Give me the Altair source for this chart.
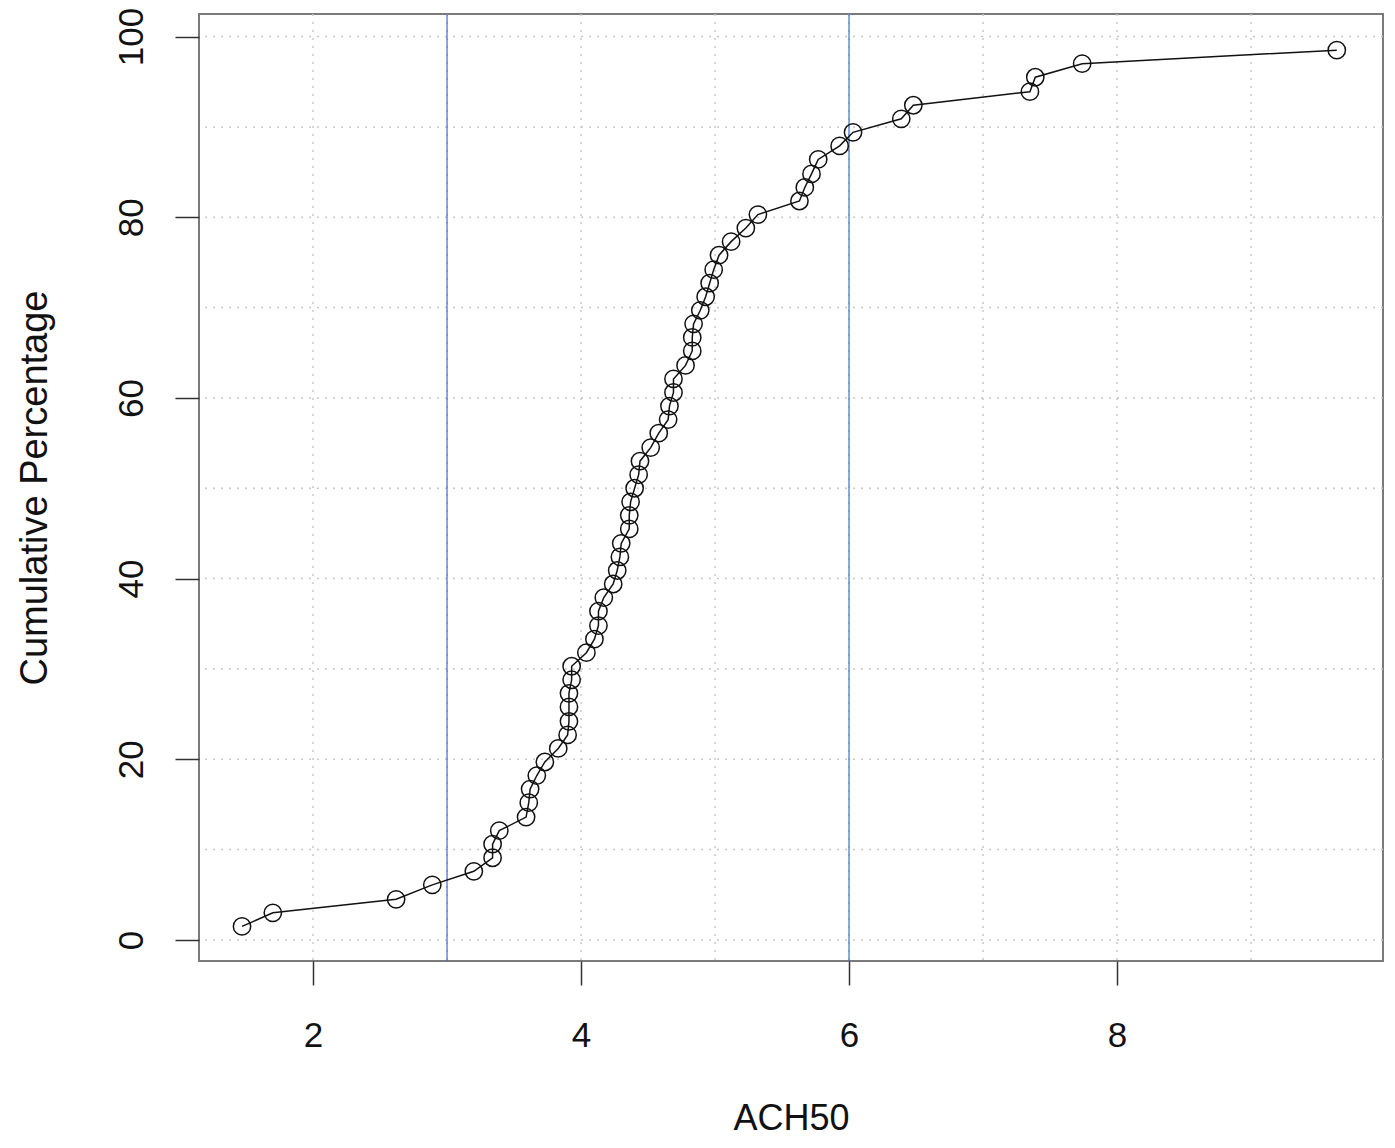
import altair as alt
import pandas as pd

# Data (ACH50 value, cumulative percentage)
ach50 = [1.47, 1.70, 2.62, 2.89, 3.20, 3.34, 3.34, 3.39, 3.59, 3.61,
         3.62, 3.67, 3.73, 3.83, 3.90, 3.91, 3.91, 3.91, 3.93, 3.93,
         4.04, 4.10, 4.13, 4.13, 4.17, 4.24, 4.27, 4.29, 4.30, 4.36,
         4.36, 4.37, 4.40, 4.43, 4.44, 4.52, 4.58, 4.65, 4.66, 4.69,
         4.69, 4.78, 4.83, 4.83, 4.84, 4.89, 4.93, 4.96, 4.99, 5.03,
         5.12, 5.23, 5.32, 5.63, 5.67, 5.72, 5.77, 5.93, 6.03, 6.39,
         6.48, 7.35, 7.39, 7.74, 9.64]
cum_pct = [1.5, 3.0, 4.5, 6.1, 7.6, 9.1, 10.6, 12.1, 13.6, 15.2,
           16.7, 18.2, 19.7, 21.2, 22.7, 24.2, 25.8, 27.3, 28.8, 30.3,
           31.8, 33.3, 34.8, 36.4, 37.9, 39.4, 40.9, 42.4, 43.9, 45.5,
           47.0, 48.5, 50.0, 51.5, 53.0, 54.5, 56.1, 57.6, 59.1, 60.6,
           62.1, 63.6, 65.2, 66.7, 68.2, 69.7, 71.2, 72.7, 74.2, 75.8,
           77.3, 78.8, 80.3, 81.8, 83.3, 84.8, 86.4, 87.9, 89.4, 90.9,
           92.4, 93.9, 95.5, 97.0, 98.5]

x_ticks = [2, 4, 6, 8]
y_ticks = [0, 20, 40, 60, 80, 100]
x_grid = [2, 3, 4, 5, 6, 7, 8, 9]
y_grid = [0, 10, 20, 30, 40, 50, 60, 70, 80, 90, 100]
ref_lines = [3, 6]

X_DOMAIN = [1.149, 9.985]
Y_DOMAIN = [-2.33, 102.5]

W, H = 1184, 947
FONT = "Liberation Sans"

df = pd.DataFrame({"ACH50": ach50, "pct": cum_pct})
df_xg = pd.DataFrame({"ACH50": x_grid})
df_yg = pd.DataFrame({"pct": y_grid})
df_ref = pd.DataFrame({"ACH50": ref_lines})

xscale = alt.Scale(domain=X_DOMAIN, nice=False, zero=False)
yscale = alt.Scale(domain=Y_DOMAIN, nice=False, zero=False)

x_axis = alt.Axis(
    values=x_ticks, title="ACH50", grid=False, domain=False,
    tickSize=24, tickColor="#333333", tickWidth=1.5,
    labelFontSize=35, labelFont=FONT, labelColor="#111111",
    labelBaseline="alphabetic", labelPadding=61, labelFlush=False,
    titleFontSize=36, titleFont=FONT, titleFontWeight="normal", titleColor="#111111",
    titleBaseline="alphabetic", titleY=168, titleX=W / 2, titleAlign="center",
)
y_axis = alt.Axis(
    values=y_ticks, title="Cumulative Percentage", grid=False, domain=False,
    tickSize=24, tickColor="#333333", tickWidth=1.5,
    labelFontSize=35, labelFont=FONT, labelColor="#111111",
    labelAngle=270, labelAlign="center", labelBaseline="alphabetic",
    labelPadding=33, labelFlush=False,
    titleFontSize=38, titleFont=FONT, titleFontWeight="normal", titleColor="#111111",
    titleAngle=270, titleBaseline="alphabetic", titleAlign="center",
    titleX=-153, titleY=H / 2,
)

X = alt.X("ACH50:Q", scale=xscale, axis=x_axis)
Y = alt.Y("pct:Q", scale=yscale, axis=y_axis)

xgrid = alt.Chart(df_xg).mark_rule(
    color="#c8c8c8", strokeDash=[2, 6], strokeWidth=1.5
).encode(x=X)

ygrid = alt.Chart(df_yg).mark_rule(
    color="#c8c8c8", strokeDash=[2, 6], strokeWidth=1.5
).encode(y=Y)

refs = alt.Chart(df_ref).mark_rule(color="#3d6fd6", strokeWidth=1.2).encode(x=X)

line = alt.Chart(df).mark_line(color="#111111", strokeWidth=1.5).encode(
    x=X, y=Y, order=alt.Order("pct:Q"),
)

pts = alt.Chart(df).mark_point(
    shape="circle", filled=False, size=300, color="#111111", strokeWidth=1.5, opacity=1
).encode(x=X, y=Y)

chart = alt.layer(xgrid, ygrid, refs, line, pts).properties(
    width=W, height=H,
    autosize=alt.AutoSizeParams(type="none"),
    padding={"left": 191, "top": 6, "right": 4, "bottom": 179},
    background="white",
).configure_view(
    stroke="#7a7a7a", strokeWidth=2
)

chart.save("out.html", embed_options={"renderer": "svg", "actions": False})
